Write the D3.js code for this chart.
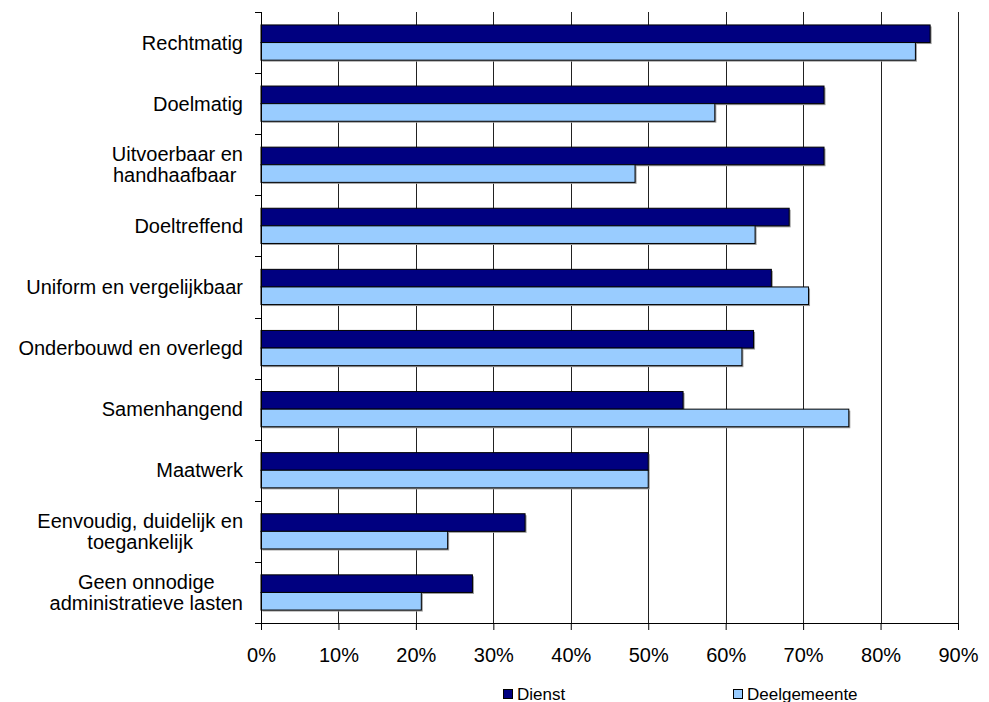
<!DOCTYPE html>
<html>
<head>
<meta charset="utf-8">
<script src="https://cdn.jsdelivr.net/npm/d3@7"></script>
<style>
  html, body { margin: 0; padding: 0; background: #fff; }
  svg { display: block; }
  text { font-family: "Liberation Sans", Arial, sans-serif; fill: #000; }
</style>
</head>
<body>
<svg id="chart" width="989" height="702"></svg>
<script>
const categories = [
  ["Rechtmatig"],
  ["Doelmatig"],
  ["Uitvoerbaar en", "handhaafbaar "],
  ["Doeltreffend"],
  ["Uniform en vergelijkbaar"],
  ["Onderbouwd en overlegd"],
  ["Samenhangend"],
  ["Maatwerk"],
  ["Eenvoudig, duidelijk en", "toegankelijk"],
  ["Geen onnodige", "administratieve lasten"]
];
const seriesNames = ["Dienst", "Deelgemeente"];
const dienst = [86.4, 72.7, 72.7, 68.2, 65.9, 63.6, 54.5, 50.0, 34.1, 27.3];
const deelgemeente = [84.5, 58.6, 48.3, 63.8, 70.7, 62.1, 75.9, 50.0, 24.1, 20.7];
const xTicks = [0, 10, 20, 30, 40, 50, 60, 70, 80, 90];
const colors = ["#000080", "#99CCFF"];

const svg = d3.select("#chart");
const m = { left: 261, right: 958, top: 12, bottom: 623 };

const x = d3.scaleLinear().domain([0, 90]).range([m.left, m.right]);
const y = d3.scaleBand().domain(d3.range(categories.length)).range([m.top, m.bottom]).padding(0);
const inner = d3.scaleBand().domain(seriesNames).range([0, y.step()]).paddingInner(0).paddingOuter(0.735);

const rows = categories.map((c, i) => ({ i, values: [dienst[i], deelgemeente[i]] }));

// Gridlines
svg.append("g").selectAll("line").data(xTicks.filter(t => t > 0)).join("line")
  .attr("x1", d => Math.round(x(d)) + 0.5).attr("x2", d => Math.round(x(d)) + 0.5)
  .attr("y1", m.top).attr("y2", m.bottom)
  .attr("stroke", "#222").attr("stroke-width", 1);

// Bars
const g = svg.append("g");
rows.forEach(r => {
  seriesNames.forEach((s, k) => {
    const y0 = y(r.i) + inner(s);
    const h = inner.bandwidth();
    const w = x(r.values[k]) - x(0);
    g.append("rect")
      .attr("x", x(0) + 1.5).attr("y", y0 + 1.5)
      .attr("width", w).attr("height", h)
      .attr("fill", "#9a9a9a");
  });
  seriesNames.forEach((s, k) => {
    const y0 = y(r.i) + inner(s);
    const h = inner.bandwidth();
    const w = x(r.values[k]) - x(0);
    g.append("rect")
      .attr("x", x(0)).attr("y", y0)
      .attr("width", w).attr("height", h)
      .attr("fill", colors[k]).attr("stroke", "#000").attr("stroke-width", 1);
  });
});

// X axis
const xAxis = d3.axisBottom(x).tickValues(xTicks).tickFormat(d => d + "%").tickSize(7).tickPadding(18);
const xg = svg.append("g").attr("transform", `translate(0,${m.bottom})`).call(xAxis);
xg.select(".domain").remove();
xg.append("line").attr("x1", m.left - 6).attr("x2", m.right).attr("y1", 0.5).attr("y2", 0.5).attr("stroke", "#000");
xg.selectAll(".tick line").attr("stroke", "#000");
xg.selectAll(".tick text").attr("font-size", 20).attr("font-family", "Liberation Sans, Arial, sans-serif").attr("fill", "#000");

// Y axis line and ticks at band boundaries
const yg = svg.append("g");
yg.append("line").attr("x1", m.left + 0.5).attr("x2", m.left + 0.5).attr("y1", m.top).attr("y2", m.bottom).attr("stroke", "#000");
yg.selectAll("line.tk").data(d3.range(categories.length + 1)).join("line").attr("class", "tk")
  .attr("x1", m.left - 6).attr("x2", m.left)
  .attr("y1", d => Math.round(m.top + d * y.step()) + 0.5)
  .attr("y2", d => Math.round(m.top + d * y.step()) + 0.5)
  .attr("stroke", "#000");

// Category labels
const labelRight = 243;
const lineH = 21;
categories.forEach((lines, i) => {
  const cy = y(i) + y.bandwidth() / 2;
  const t = svg.append("g");
  const texts = lines.map((ln, j) => t.append("text")
    .attr("font-size", 20)
    .attr("xml:space", "preserve")
    .style("white-space", "pre")
    .attr("y", cy + 7 + (j - (lines.length - 1) / 2) * lineH)
    .text(ln));
  const widths = texts.map(tx => tx.node().getComputedTextLength());
  const maxW = d3.max(widths);
  const center = labelRight - maxW / 2;
  texts.forEach(tx => tx.attr("x", center).attr("text-anchor", "middle"));
});

// Legend
const legendItems = [{ name: "Dienst", x: 503 }, { name: "Deelgemeente", x: 733 }];
const lg = svg.append("g");
legendItems.forEach((it, k) => {
  lg.append("rect").attr("x", it.x + 0.5).attr("y", 689.5).attr("width", 9).attr("height", 9)
    .attr("fill", colors[k]).attr("stroke", "#000");
  lg.append("text").attr("x", it.x + 14).attr("y", 699.5).attr("font-size", 17).text(it.name);
});
</script>
</body>
</html>
